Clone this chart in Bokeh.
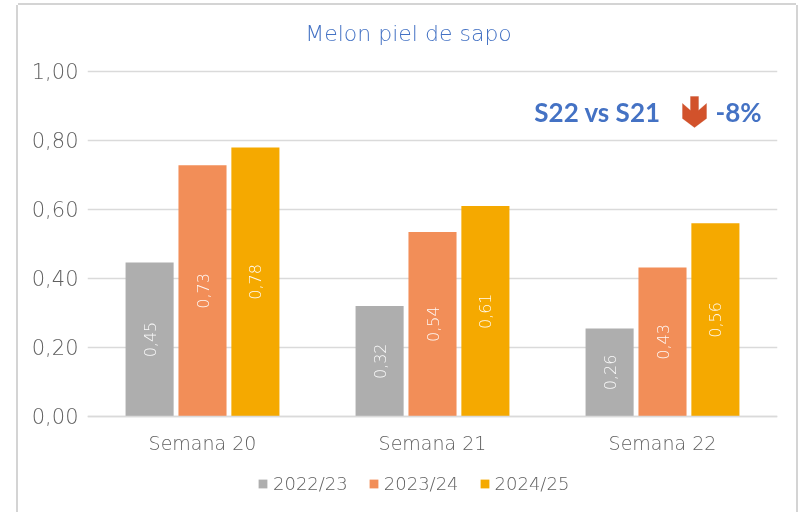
from bokeh.plotting import figure
from bokeh.models import (FactorRange, Range1d, ColumnDataSource, Legend, LegendItem, Label,
                          PolyAnnotation, FixedTicker, CustomJSTickFormatter)
from bokeh.transform import dodge
from bokeh.core.properties import value
from bokeh.embed import file_html
from bokeh.resources import INLINE

categories = ["Semana 20", "Semana 21", "Semana 22"]
seasons = ["2022/23", "2023/24", "2024/25"]
vals_2223 = [0.446, 0.32, 0.255]
vals_2324 = [0.728, 0.535, 0.432]
vals_2425 = [0.78, 0.61, 0.56]
labels_2223 = ["0,45", "0,32", "0,26"]
labels_2324 = ["0,73", "0,54", "0,43"]
labels_2425 = ["0,78", "0,61", "0,56"]
colors = ["#AEAEAE", "#F28E58", "#F5A900"]
y_ticks = [0, 0.2, 0.4, 0.6, 0.8, 1.0]
FONT = "'DejaVu Sans Light', 'DejaVu Sans'"
BOLD = "Lato"
GRID = "#DADADA"
TXT = "#606060"
BLUE = "#4472C4"

p = figure(frame_width=690, frame_height=493, output_backend="svg", toolbar_location=None,
           x_range=FactorRange(factors=categories), y_range=Range1d(-0.2783, 1.1507),
           min_border_left=69, min_border_right=19, min_border_top=14, min_border_bottom=0)
p.styles = {"position": "fixed", "left": "18px", "top": "5px",
            "box-shadow": "-2px 0 0 #D4D4D4, 2px 0 0 #D4D4D4, 0 -2px 0 #D4D4D4"}
p.outline_line_color = None
p.xgrid.visible = False
p.ygrid.grid_line_color = GRID
p.ygrid.grid_line_width = 1.6
p.yaxis.ticker = FixedTicker(ticks=y_ticks)
p.yaxis.formatter = CustomJSTickFormatter(code="return tick.toFixed(2).replace('.', ',')")
for ax in (p.xaxis[0], p.yaxis[0]):
    ax.major_tick_line_color = None
    ax.minor_tick_line_color = None
    ax.major_label_text_font = FONT
    ax.major_label_text_color = TXT
p.yaxis.major_label_text_font_size = "21px"
p.xaxis.major_label_text_font_size = "19px"
p.yaxis.axis_line_color = None
p.yaxis.major_label_standoff = 3
p.xaxis.fixed_location = 0
p.xaxis.axis_line_color = GRID
p.xaxis.axis_line_width = 1.6
p.xaxis.major_label_standoff = 10

series = [(vals_2223, labels_2223, -0.23), (vals_2324, labels_2324, 0.0), (vals_2425, labels_2425, 0.23)]
items = []
for i, (vals, labs, off) in enumerate(series):
    src = ColumnDataSource(dict(cat=categories, v=vals, mid=[v / 2 for v in vals], lab=labs))
    x = dodge("cat", off, range=p.x_range)
    r = p.vbar(x=x, top="v", width=0.209, bottom=0, source=src, fill_color=colors[i], line_color=None)
    p.text(x=x, y="mid", text="lab", source=src, angle=90, angle_units="deg", text_align="center",
           text_baseline="middle", text_color="white", text_alpha=0.95, text_font=value(FONT),
           text_font_size="16px")
    items.append(LegendItem(label=seasons[i], renderers=[r]))

legend = Legend(items=items, orientation="horizontal", location=(170, 18), background_fill_alpha=0,
                border_line_color=None, label_text_font=FONT, label_text_color=TXT,
                label_text_font_size="18px", glyph_width=11, glyph_height=11, spacing=20,
                label_standoff=5, margin=0, padding=0)
p.add_layout(legend, "center")

p.add_layout(Label(x=321, y=479, x_units="screen", y_units="screen", text="Melon piel de sapo",
                   text_font=FONT, text_font_size="22px", text_color="#4472C4", text_align="center",
                   text_baseline="middle"))
p.add_layout(Label(x=510, y=401, x_units="screen", y_units="screen", text="S22 vs S21",
                   text_font=BOLD, text_font_style="bold", text_font_size="26px", text_color=BLUE,
                   text_align="center", text_baseline="middle"))
p.add_layout(Label(x=651, y=401, x_units="screen", y_units="screen", text="-8%",
                   text_font=BOLD, text_font_style="bold", text_font_size="26px", text_color=BLUE,
                   text_align="center", text_baseline="middle"))

p.add_layout(PolyAnnotation(xs=[603, 611, 611, 619, 619, 607, 595, 595, 603],
                            ys=[416, 416, 402, 409, 394, 385, 394, 409, 402],
                            xs_units="screen", ys_units="screen",
                            fill_color="#D2522B", fill_alpha=1, line_color="#C24A25", line_width=1))

open("out.html", "w").write(file_html(p, INLINE))
